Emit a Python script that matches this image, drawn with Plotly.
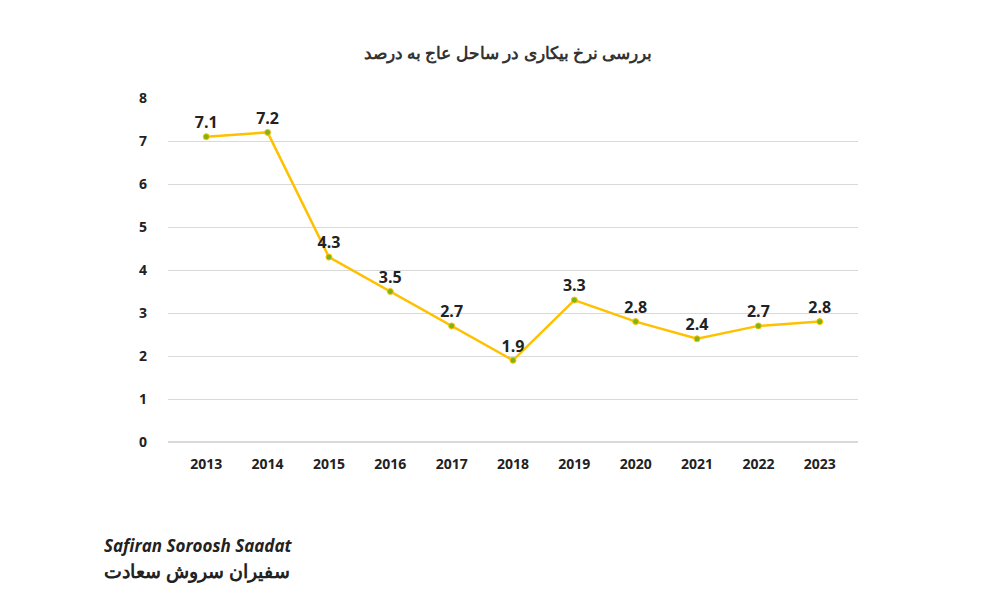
import plotly.graph_objects as go

years = ["2013", "2014", "2015", "2016", "2017", "2018", "2019", "2020", "2021", "2022", "2023"]
rates = [7.1, 7.2, 4.3, 3.5, 2.7, 1.9, 3.3, 2.8, 2.4, 2.7, 2.8]
labels = ["<b>7.1</b>", "<b>7.2</b>", "<b>4.3</b>", "<b>3.5</b>", "<b>2.7</b>", "<b>1.9</b>",
          "<b>3.3</b>", "<b>2.8</b>", "<b>2.4</b>", "<b>2.7</b>", "<b>2.8</b>"]

fig = go.Figure()
fig.add_trace(go.Scatter(
    x=years, y=rates, mode="lines+markers+text", text=labels,
    textposition="top center", textfont=dict(size=16, color="#222", family="Open Sans"),
    line=dict(color="#FFC000", width=2.5),
    marker=dict(size=6, color="#7CB518", line=dict(color="#FFC000", width=1)),
    cliponaxis=False,
))

fig.update_layout(
    width=1000, height=600,
    paper_bgcolor="white", plot_bgcolor="white",
    margin=dict(l=160, r=150, t=90, b=166),
    showlegend=False,
    title=dict(text="<b>بررسی نرخ بیکاری در ساحل عاج به درصد</b>", x=0.5, y=0.915,
               xanchor="center", yanchor="bottom", font=dict(size=17, color="#333", family="Noto Sans")),
    font=dict(family="Open Sans", color="#222"),
)
fig.update_xaxes(showgrid=False, showline=False, ticks="", tickfont=dict(size=14),
                 ticklabelstandoff=12, tickprefix="<b>", ticksuffix="</b>")
fig.update_yaxes(range=[0, 8], dtick=1, showgrid=True, gridcolor="#d9d9d9", zeroline=True,
                 zerolinecolor="#d9d9d9", tickfont=dict(size=14), ticklabelstandoff=20,
                 tickprefix="<b>", ticksuffix="</b>")

# logo text at bottom-left (below the plot area)
fig.add_annotation(x=-0.095, y=-0.30, xref="paper", yref="paper", xanchor="left", yanchor="middle",
                   showarrow=False, text="<b><i>Safiran Soroosh Saadat</i></b>",
                   font=dict(size=17, color="#222"))
fig.add_annotation(x=-0.095, y=-0.375, xref="paper", yref="paper", xanchor="left", yanchor="middle",
                   showarrow=False, text="<b>سفیران سروش سعادت</b>",
                   font=dict(size=19, color="#222", family="Noto Sans"))
fig.write_html("out.html")
